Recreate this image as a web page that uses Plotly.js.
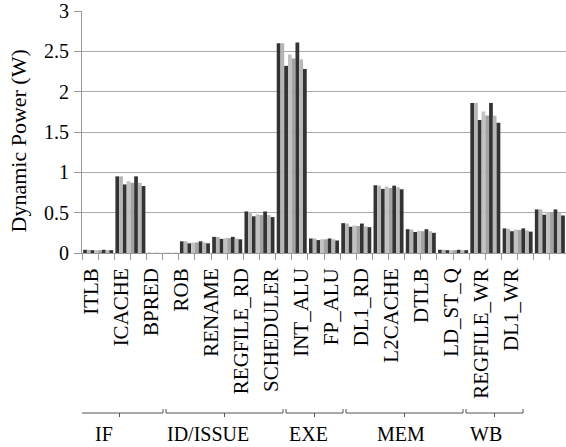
<!DOCTYPE html>
<html>
<head>
<meta charset="utf-8">
<script src="https://cdn.plot.ly/plotly-3.0.1.min.js"></script>
<style>
html,body{margin:0;padding:0;background:#fff;}
#chart{width:566px;height:447px;}
</style>
</head>
<body>
<div id="chart"></div>
<script>
// ---- data ----
var categories = ["ITLB","ICACHE","BPRED","ROB","RENAME","REGFILE_RD","SCHEDULER","INT_ALU","FP_ALU","DL1_RD","L2CACHE","DTLB","LD_ST_Q","REGFILE_WR","DL1_WR"];
var s1 = [0.04, 0.95, 0.002, 0.145, 0.20, 0.515, 2.60, 0.18, 0.37, 0.84, 0.295, 0.04, 1.86, 0.305, 0.54];
var s2 = [0.04, 0.95, 0.002, 0.145, 0.20, 0.51, 2.60, 0.18, 0.365, 0.835, 0.29, 0.04, 1.86, 0.30, 0.54];
var s3 = [0.035, 0.85, 0.002, 0.12, 0.175, 0.455, 2.32, 0.16, 0.325, 0.795, 0.26, 0.035, 1.65, 0.27, 0.475];
var s4 = [0.035, 0.89, 0.002, 0.13, 0.185, 0.48, 2.46, 0.17, 0.34, 0.825, 0.275, 0.035, 1.755, 0.29, 0.505];
var s5 = [0.035, 0.87, 0.002, 0.13, 0.185, 0.47, 2.41, 0.17, 0.335, 0.805, 0.27, 0.035, 1.705, 0.285, 0.50];
var s6 = [0.04, 0.95, 0.002, 0.145, 0.20, 0.515, 2.61, 0.18, 0.365, 0.835, 0.295, 0.04, 1.86, 0.305, 0.54];
var s7 = [0.035, 0.87, 0.002, 0.13, 0.18, 0.47, 2.40, 0.17, 0.33, 0.815, 0.27, 0.035, 1.70, 0.28, 0.495];
var s8 = [0.035, 0.83, 0.002, 0.12, 0.17, 0.445, 2.28, 0.155, 0.32, 0.79, 0.25, 0.035, 1.615, 0.265, 0.465];
var groupNames = ["IF","ID/ISSUE","EXE","MEM","WB"];
var groupFirst = [0, 3, 7, 9, 13];
var groupLast  = [2, 6, 8, 12, 14];
var yTickVals = [0, 0.5, 1, 1.5, 2, 2.5, 3];
var yTickText = ["0","0.5","1","1.5","2","2.5","3"];
var yTitle = "Dynamic Power (W)";

// ---- style ----
var series = [s1,s2,s3,s4,s5,s6,s7,s8];
var colors = ["#333333","#b5b5b5","#333333","#c2c2c2","#a3a3a3","#333333","#b8b8b8","#333333"];
var groupLabelShift = [-17,-18,-8,-5,-10];
var FONT = "Liberation Serif";
var ML = 82, MR = 0, MT = 11, MB = 194, W = 566, H = 447;
var PW = W - ML - MR, PH = H - MT - MB;
function pxX(px){ return (px - ML) / PW; }
function pxY(py){ return (H - MB - py) / PH; }

var idx = categories.map(function(c,i){return i;});
var traces = series.map(function(s,k){
  return {type:"bar", x: idx, y: s, marker:{color: colors[k], line:{width:0}},
          hoverinfo:"y", showlegend:false};
});
traces.push({type:"scatter", x:[0], y:[null], xaxis:"x2", yaxis:"y", mode:"markers",
             showlegend:false, hoverinfo:"skip"});

var minorTicks = [];
for (var i = 0; i <= categories.length*2; i++) minorTicks.push(-0.5 + i*0.5);

var shapes = [], annotations = [];
var yLine = pxY(413), yEnd = pxY(409), yMid = pxY(417);
for (var g = 0; g < groupNames.length; g++) {
  var x0 = groupFirst[g] - 0.5, x1 = groupLast[g] + 0.4, xc = (groupFirst[g] + groupLast[g]) / 2;
  var ln = {color:"#555", width:1};
  shapes.push({type:"line", xref:"x2", yref:"paper", x0:x0, x1:x1, y0:yLine, y1:yLine, line:ln});
  shapes.push({type:"line", xref:"x2", yref:"paper", x0:x0, x1:x0, y0:yLine, y1:yEnd, line:ln});
  shapes.push({type:"line", xref:"x2", yref:"paper", x0:x1, x1:x1, y0:yLine, y1:yEnd, line:ln});
  shapes.push({type:"line", xref:"x2", yref:"paper", x0:(x0+x1)/2, x1:(x0+x1)/2, y0:yLine, y1:yMid, line:ln});
  annotations.push({xref:"x2", yref:"paper", x:xc, y:pxY(434), xshift:groupLabelShift[g],
    text:groupNames[g], showarrow:false, xanchor:"center", yanchor:"middle",
    font:{family:FONT, size:20, color:"#000"}});
}
annotations.push({xref:"paper", yref:"paper", x:pxX(18), y:pxY(141.5), text:yTitle,
  textangle:-90, showarrow:false, xanchor:"center", yanchor:"middle",
  font:{family:FONT, size:22, color:"#000"}});

var a2 = -(91 - ML) / 30;
var layout = {
  width: W, height: H,
  margin:{l:ML, r:MR, t:MT, b:MB, pad:0},
  paper_bgcolor:"#fff", plot_bgcolor:"#fff",
  barmode:"group", bargap:0.07, bargroupgap:0,
  font:{family:FONT, color:"#000"},
  xaxis:{type:"linear", range:[-0.5, categories.length - 0.5], tickvals:minorTicks,
    ticktext:minorTicks.map(function(){return "";}), showticklabels:false,
    ticks:"outside", ticklen:6, tickcolor:"#999", tickwidth:1,
    showline:true, linecolor:"#999", linewidth:1, showgrid:false, zeroline:false, fixedrange:true},
  xaxis2:{type:"linear", overlaying:"x", anchor:"y", side:"bottom",
    range:[a2, a2 + PW/30], tickvals:idx, ticktext:categories, tickangle:-90,
    ticks:"", showline:false, showgrid:false, zeroline:false,
    tickfont:{family:FONT, size:21, color:"#000"}, ticklabelstandoff:10, fixedrange:true},
  yaxis:{range:[0,3], tickvals:yTickVals, ticktext:yTickText, ticks:"outside", ticklen:7,
    tickcolor:"#999", showline:true, linecolor:"#999", linewidth:1,
    showgrid:true, gridcolor:"#aaaaaa", gridwidth:1, zeroline:false,
    tickfont:{family:FONT, size:20, color:"#000"}, ticklabelstandoff:1, fixedrange:true},
  shapes: shapes,
  annotations: annotations
};
Plotly.newPlot("chart", traces, layout, {displayModeBar:false, staticPlot:true});
</script>
</body>
</html>
